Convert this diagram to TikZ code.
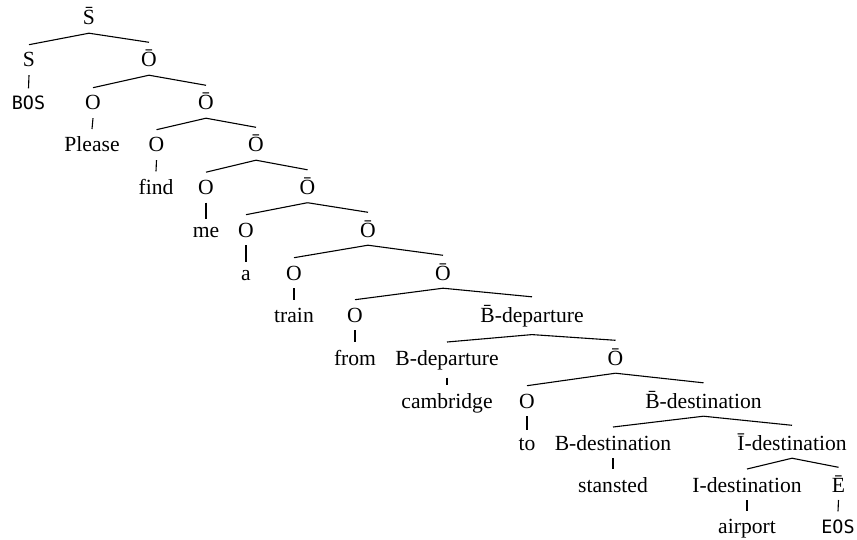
\documentclass[tikz,border=0pt]{standalone}
\usepackage{fontspec}
\setmainfont{Liberation Serif}
\setmonofont{DejaVu Sans Mono}
\begin{document}
\begin{tikzpicture}[x=0.5pt,y=-0.5pt,
  t/.style={anchor=base,inner xsep=2pt,inner ysep=3.8pt,font=\fontsize{10.8}{13}\selectfont},
  m/.style={t,font=\fontsize{9.2}{11}\selectfont\ttfamily},
  e/.style={line width=0.55pt}]
\useasboundingbox (0,0) rectangle (857,540);
% row 0
\node[t] (r) at (89,25) {S̄};
% row 1
\node[t] (s1) at (29,67) {S};
\node[t] (o1) at (149,67) {Ō};
% row 2
\node[m] (bos) at (28.5,110) {BOS};
\node[t] (a2) at (93,110) {O};
\node[t] (o2) at (206,110) {Ō};
% row 3
\node[t] (w1) at (92,152) {Please};
\node[t] (a3) at (156.5,152) {O};
\node[t] (o3) at (256,152) {Ō};
% row 4
\node[t] (w2) at (156,194.5) {find};
\node[t] (a4) at (206,194.5) {O};
\node[t] (o4) at (307.5,194.5) {Ō};
% row 5
\node[t] (w3) at (206,237) {me};
\node[t] (a5) at (246,237) {O};
\node[t] (o5) at (368,237) {Ō};
% row 6
\node[t] (w4) at (246,280) {a};
\node[t] (a6) at (294,280) {O};
\node[t] (o6) at (443,280) {Ō};
% row 7
\node[t] (w5) at (294,322) {train};
\node[t] (a7) at (355,322) {O};
\node[t] (bd) at (532,322) {B̄-departure};
% row 8
\node[t] (w6) at (355,365) {from};
\node[t] (bdep) at (447,365) {B-departure};
\node[t] (o8) at (615.5,365) {Ō};
% row 9
\node[t] (w7) at (447,408) {cambridge};
\node[t] (a9) at (527,408) {O};
\node[t] (bds) at (703.5,408) {B̄-destination};
% row 10
\node[t] (w8) at (527,450) {to};
\node[t] (bdes) at (613,450) {B-destination};
\node[t] (ids) at (792,450) {Ī-destination};
% row 11
\node[t] (w9) at (613,492) {stansted};
\node[t] (ides) at (747,492) {I-destination};
\node[t] (eb) at (838.5,492) {Ē};
% row 12
\node[t] (w10) at (747,533) {airport};
\node[m] (eos) at (838,533) {EOS};
% edges
\foreach \p/\c in {r/s1,r/o1,s1/bos,o1/a2,o1/o2,a2/w1,o2/a3,o2/o3,a3/w2,
  o3/a4,o3/o4,a4/w3,o4/a5,o4/o5,a5/w4,o5/a6,o5/o6,a6/w5,o6/a7,o6/bd,a7/w6,
  bd/bdep,bd/o8,bdep/w7,o8/a9,o8/bds,a9/w8,bds/bdes,bds/ids,bdes/w9,
  ids/ides,ids/eb,ides/w10,eb/eos}
  \draw[e] (\p.south) -- (\c.north);
\end{tikzpicture}
\end{document}
